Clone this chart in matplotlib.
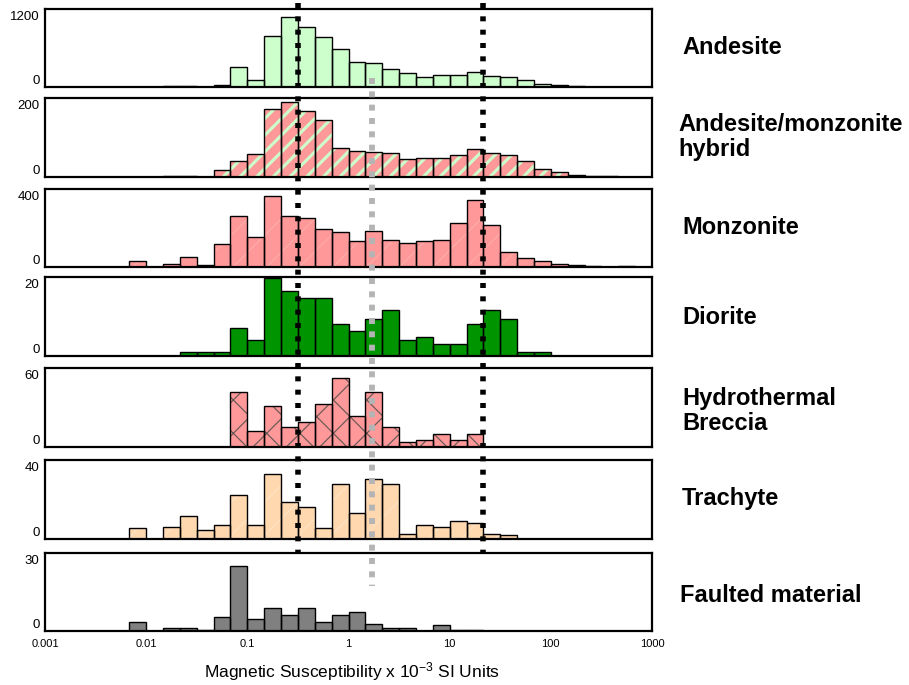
import numpy as np
import matplotlib
matplotlib.use("Agg")
import matplotlib.pyplot as plt
from matplotlib.lines import Line2D
from matplotlib import transforms

plt.rcParams['font.family'] = ['Liberation Sans', 'DejaVu Sans']
plt.rcParams['mathtext.fontset'] = 'custom'
plt.rcParams['mathtext.rm'] = 'Liberation Sans'
plt.rcParams['mathtext.default'] = 'rm'
plt.rcParams['lines.scale_dashes'] = False

# histogram bins: six per decade from 0.001 to 1000 (log10 spacing)
BIN_EDGES = 10 ** (-3 + np.arange(37) / 6)

rock_names = ["Andesite", "Andesite/monzonite\nhybrid", "Monzonite", "Diorite",
              "Hydrothermal\nBreccia", "Trachyte", "Faulted material"]

andesite = [0, 0, 0, 0, 0, 5, 0, 15, 15, 5, 40, 343, 114, 886, 1210, 1029, 863, 651,
            429, 417, 309, 246, 177, 206, 206, 257, 189, 166, 120, 51, 40, 23, 6, 0, 0, 0]
hybrid = [0, 0, 0, 0, 0, 1, 1, 2, 2, 0, 19, 46, 64, 194, 212, 188, 163, 82,
          74, 71, 69, 50, 53, 55, 61, 80, 69, 63, 44, 23, 14, 7, 4, 2, 0, 0]
monzonite = [0, 0, 0, 0, 0, 36, 0, 19, 59, 11, 133, 291, 173, 408, 295, 282, 221, 202,
             150, 204, 154, 138, 148, 157, 252, 385, 239, 87, 49, 34, 16, 14, 8, 0, 3, 0]
diorite = [0, 0, 0, 0, 0, 0, 0, 0, 1, 1, 1, 8, 4.5, 22, 18.5, 16.5, 16.5, 9,
           7, 10.5, 13, 4.5, 5.5, 3.5, 3.5, 9, 13, 10.5, 1, 1, 0, 0, 0, 0, 0, 0]
breccia = [0, 0, 0, 0, 0, 0, 0, 0, 0, 0, 0, 47, 14, 35, 17, 21, 37, 59,
           26, 47, 17, 4, 6, 11, 6, 11, 0, 0, 0, 0, 0, 0, 0, 0, 0, 0]
trachyte = [0, 0, 0, 0, 0, 6, 0, 7, 13, 5, 8, 25, 8, 37, 21, 18, 6, 31,
            15, 34, 31, 3, 8, 7, 10, 9, 3, 2, 0, 0, 0, 0, 0, 0, 0, 0]
faulted = [0, 0, 0, 0, 0, 4, 0, 1.5, 1.5, 0.5, 6, 28, 5, 10, 7, 10, 4, 7,
           8, 3, 1.5, 1.5, 0, 2.5, 0.5, 0.5, 0, 0, 0, 0, 0, 0, 0, 0, 0, 0]

counts = [andesite, hybrid, monzonite, diorite, breccia, trachyte, faulted]
y_top_ticks = [1200, 200, 400, 20, 60, 40, 30]

# reference susceptibility cut-offs (x 10^-3 SI)
low_cut = 0.316
high_cut = 21.5
mid_cut = 1.7

# fill colour, hatch pattern, hatch colour, hatch line width
styles = [
    ("#ccffcc", "", "#ccffcc", 1.0),
    ("#ff9999", "//", "#ccffcc", 2.2),
    ("#ff9999", "/", "#ffb0b0", 0.6),
    ("#009400", "", "#009400", 1.0),
    ("#ff9999", "x", "#6e5a5a", 0.9),
    ("#ffd8b0", "/", "#ffe6cc", 0.6),
    ("#808080", "", "#808080", 1.0),
]

W, H = 909, 685
fig = plt.figure(figsize=(W / 100, H / 100), dpi=100)

panel_top = [9, 98, 189, 277, 368, 460, 553]
panel_bot = [87, 177, 267, 356, 447, 539, 631]
x0, x1 = 45, 652

left = BIN_EDGES[:-1]
widths = np.diff(BIN_EDGES)
axes = []
for i, (vals, top, (face, hatch, hcol, hlw)) in enumerate(zip(counts, y_top_ticks, styles)):
    ax = fig.add_axes([x0 / W, 1 - panel_bot[i] / H, (x1 - x0) / W,
                       (panel_bot[i] - panel_top[i]) / H])
    ax.set_xscale('log')
    ax.set_xlim(1e-3, 1e3)
    ax.set_ylim(0, top * 1.12)
    with plt.rc_context({'hatch.linewidth': hlw}):
        ax.bar(left, vals, width=widths, align='edge', color=face,
               edgecolor=hcol, hatch=hatch or None, linewidth=0)
    ax.bar(left, vals, width=widths, align='edge', fill=False,
           edgecolor='black', linewidth=1.0)
    for s in ax.spines.values():
        s.set_linewidth(1.6)
        s.set_color('black')
    ax.set_yticks([])
    ax.tick_params(axis='x', which='both', length=0)
    ax.set_xticks([])
    ax.set_xticks([], minor=True)

    ytr = transforms.blended_transform_factory(ax.transAxes, ax.transData)
    ax.text(-0.009, top, str(top), transform=ytr, ha='right', va='center', fontsize=9.5)
    zero_tr = transforms.offset_copy(ytr, fig=fig, y=6, units='dots')
    ax.text(-0.009, 0, "0", transform=zero_tr, ha='right', va='center', fontsize=9.5)
    axes.append(ax)

bottom = axes[-1]
bottom.set_xticks([1e-3, 1e-2, 1e-1, 1, 10, 100, 1000])
bottom.set_xticklabels(["0.001", "0.01", "0.1", "1", "10", "100", "1000"], fontsize=8)
bottom.tick_params(axis='x', which='major', length=0, pad=6)

# dotted cut-off lines spanning several panels
vtr = transforms.blended_transform_factory(bottom.transData, fig.transFigure)
for xv in (low_cut, high_cut):
    fig.add_artist(Line2D([xv, xv], [1 - 3 / H, 1 - 552 / H], transform=vtr,
                          color='black', lw=4.0, dashes=(3.6, 6.0),
                          dash_capstyle='butt'))
fig.add_artist(Line2D([mid_cut, mid_cut], [1 - 78 / H, 1 - 586 / H], transform=vtr,
                      color='#b4b4b4', lw=4.2, dashes=(4.3, 5.3),
                      dash_capstyle='butt'))

label_y = [48, 137, 228, 318, 411, 498, 595]
label_x = [682, 678, 682, 682, 682, 682, 680]
for name, lx, ly in zip(rock_names, label_x, label_y):
    fig.text(lx / W, 1 - ly / H, name, ha='left', va='center',
             fontsize=17, fontweight='bold', linespacing=1.15)

fig.text(352 / W, 1 - 672 / H, "Magnetic Susceptibility x 10$^{-3}$ SI Units",
         ha='center', va='center', fontsize=12.5)

fig.savefig("out.png", dpi=100)
